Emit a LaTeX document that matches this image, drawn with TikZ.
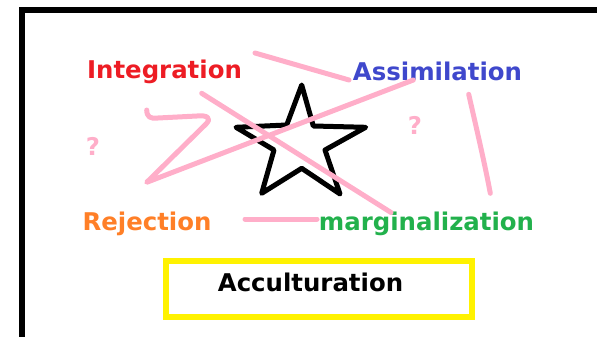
\documentclass[tikz,border=0pt]{standalone}
\usepackage{fontspec}
\setmainfont{DejaVu Sans}
\definecolor{pRed}{RGB}{237,28,36}
\definecolor{pBlue}{RGB}{63,72,204}
\definecolor{pOrange}{RGB}{255,127,39}
\definecolor{pGreen}{RGB}{34,177,76}
\definecolor{pPink}{RGB}{255,174,201}
\definecolor{pYellow}{RGB}{255,242,0}
\tikzset{
  lbl/.style={anchor=base,inner sep=0pt,font=\fontsize{24.4}{29}\selectfont\bfseries},
  scribble/.style={draw=pPink,line width=5pt,line cap=round,line join=round},
  qmark/.style={lbl,text=pPink},
}
\begin{document}
\begin{tikzpicture}[x=1pt,y=-1pt]
\useasboundingbox (0,0) rectangle (597,337);
\clip (0,0) rectangle (597,337);
% frame
\draw[line width=6pt] (22,9.8) rectangle (640,380);
% labels
\node[lbl,text=pRed] (integ) at (164.5,78) {Integration};
\node[lbl,text=pBlue] (assim) at (437.5,81) {Assimilation};
\node[lbl,text=pOrange] (rej) at (147,230) {Rejection};
\node[lbl,text=pGreen] (marg) at (426.5,230) {marginalization};
\node[lbl,text=black] (acc) at (310.5,291) {Acculturation};
\node[qmark] (q1) at (93,155) {?};
\node[qmark] (q2) at (415,134) {?};
% yellow box
\draw[draw=pYellow,line width=6pt] (166,260.5) rectangle (471.5,317);
% star
\draw[line width=5pt,line join=round]
  (301.7,85) -- (313.3,126) -- (365.7,127.3) -- (325,150) -- (340,194)
  -- (301.7,168.3) -- (261.7,193.3) -- (274,150) -- (236,127.3) -- (286.7,125) -- cycle;
% pink scribbles
\draw[scribble] (255,53) -- (349,80);
\draw[scribble] (146.7,110) .. controls (147,117) and (150,119) .. (158,118)
  -- (197,116) .. controls (207,115) and (212,118) .. (206,124)
  -- (146.7,182.3) -- (413.3,80);
\draw[scribble] (201.7,93.3) -- (391,212.5);
\draw[scribble] (245,219) -- (317,219);
\draw[scribble] (468.7,94.3) .. controls (478,135) and (485,165) .. (490.3,193.3);
\end{tikzpicture}
\end{document}
